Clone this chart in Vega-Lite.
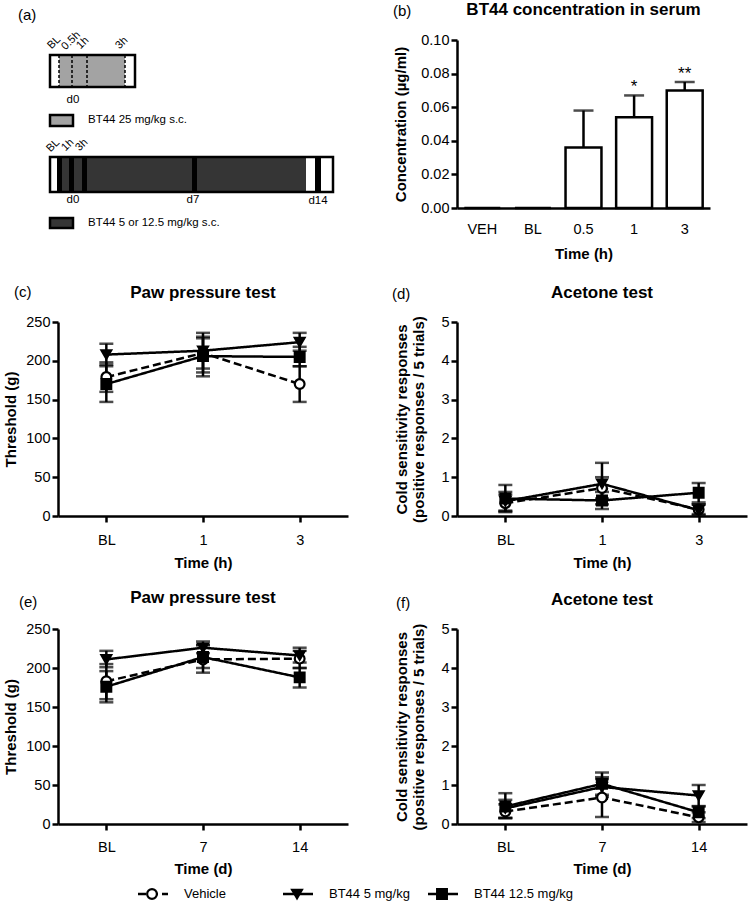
{
  "$schema": "https://vega.github.io/schema/vega-lite/v6.json",
  "background": "white",
  "padding": {"left": 3, "top": 0, "right": 2, "bottom": 2},
  "config": {
    "font": "Liberation Sans",
    "view": {"stroke": null},
    "axis": {"domainColor": "black", "domainWidth": 2.5, "tickColor": "black", "tickWidth": 2.5, "tickSize": 6, "labelColor": "black", "labelFontSize": 14.5, "labelFont": "Liberation Sans", "titleFont": "Liberation Sans", "titleFontSize": 15, "titleFontWeight": "bold", "titleColor": "black", "grid": false, "labelPadding": 2, "labelOverlap": false},
    "title": {"font": "Liberation Sans", "fontSize": 15, "fontWeight": "normal", "color": "black"}
  },
  "datasets": {
    "frames": [{"x": 0, "x2": 85, "y": 15, "y2": 47}, {"x": 0, "x2": 283, "y": 117, "y2": 152}],
    "fills": [
      {"x": 9, "x2": 75, "y": 15, "y2": 47, "kind": "gray"},
      {"x": 12, "x2": 256, "y": 117, "y2": 152, "kind": "dark"},
      {"x": 7, "x2": 12, "y": 117, "y2": 152, "kind": "black"},
      {"x": 19, "x2": 24, "y": 117, "y2": 152, "kind": "black"},
      {"x": 32, "x2": 37, "y": 117, "y2": 152, "kind": "black"},
      {"x": 142, "x2": 147, "y": 117, "y2": 152, "kind": "black"},
      {"x": 265, "x2": 271, "y": 117, "y2": 152, "kind": "black"}
    ],
    "swatches": [{"x": 0, "x2": 23, "y": 75, "y2": 86, "kind": "gray"}, {"x": 0, "x2": 23, "y": 178, "y2": 188, "kind": "dark"}],
    "dashes": [{"x": 9, "y": 15, "y2": 47}, {"x": 22, "y": 15, "y2": 47}, {"x": 37, "y": 15, "y2": 47}, {"x": 75, "y": 15, "y2": 47}],
    "rotlabels": [
      {"x": 3, "y": 11, "t": "BL"}, {"x": 17, "y": 12, "t": "0.5h"}, {"x": 32, "y": 11, "t": "1h"}, {"x": 71, "y": 11, "t": "3h"},
      {"x": 2, "y": 114, "t": "BL"}, {"x": 17, "y": 113, "t": "1h"}, {"x": 31, "y": 113, "t": "3h"}
    ],
    "daylabels": [{"x": 23, "y": 60, "t": "d0"}, {"x": 23, "y": 160, "t": "d0"}, {"x": 143, "y": 160, "t": "d7"}, {"x": 268, "y": 161, "t": "d14"}],
    "legtext": [{"x": 38, "y": 80, "t": "BT44 25 mg/kg s.c."}, {"x": 38, "y": 183, "t": "BT44 5 or 12.5 mg/kg s.c."}],
    "serum": [
      {"time": "VEH", "conc": 0, "hi": null, "sig": ""},
      {"time": "BL", "conc": 0, "hi": null, "sig": ""},
      {"time": "0.5", "conc": 0.036, "hi": 0.058, "sig": ""},
      {"time": "1", "conc": 0.054, "hi": 0.067, "sig": "*"},
      {"time": "3", "conc": 0.070, "hi": 0.075, "sig": "**"}
    ],
    "pawH": [
      {"time": "BL", "series": "Vehicle", "mean": 179, "lo": 160, "hi": 198},
      {"time": "1", "series": "Vehicle", "mean": 210, "lo": 185, "hi": 231},
      {"time": "3", "series": "Vehicle", "mean": 170, "lo": 147, "hi": 193},
      {"time": "BL", "series": "BT44 5 mg/kg", "mean": 208, "lo": 195, "hi": 222},
      {"time": "1", "series": "BT44 5 mg/kg", "mean": 213, "lo": 190, "hi": 236},
      {"time": "3", "series": "BT44 5 mg/kg", "mean": 224, "lo": 213, "hi": 236},
      {"time": "BL", "series": "BT44 12.5 mg/kg", "mean": 170, "lo": 147, "hi": 193},
      {"time": "1", "series": "BT44 12.5 mg/kg", "mean": 206, "lo": 180, "hi": 229},
      {"time": "3", "series": "BT44 12.5 mg/kg", "mean": 205, "lo": 193, "hi": 218}
    ],
    "aceH": [
      {"time": "BL", "series": "Vehicle", "mean": 0.33, "lo": 0.12, "hi": 0.55},
      {"time": "1", "series": "Vehicle", "mean": 0.72, "lo": 0.45, "hi": 1.0},
      {"time": "3", "series": "Vehicle", "mean": 0.17, "lo": 0.05, "hi": 0.3},
      {"time": "BL", "series": "BT44 5 mg/kg", "mean": 0.38, "lo": 0.14, "hi": 0.62},
      {"time": "1", "series": "BT44 5 mg/kg", "mean": 0.83, "lo": 0.3, "hi": 1.37},
      {"time": "3", "series": "BT44 5 mg/kg", "mean": 0.15, "lo": 0.02, "hi": 0.3},
      {"time": "BL", "series": "BT44 12.5 mg/kg", "mean": 0.45, "lo": 0.1, "hi": 0.8},
      {"time": "1", "series": "BT44 12.5 mg/kg", "mean": 0.4, "lo": 0.18, "hi": 0.62},
      {"time": "3", "series": "BT44 12.5 mg/kg", "mean": 0.6, "lo": 0.35, "hi": 0.85}
    ],
    "pawD": [
      {"time": "BL", "series": "Vehicle", "mean": 183, "lo": 160, "hi": 205},
      {"time": "7", "series": "Vehicle", "mean": 211, "lo": 194, "hi": 229},
      {"time": "14", "series": "Vehicle", "mean": 212, "lo": 200, "hi": 222},
      {"time": "BL", "series": "BT44 5 mg/kg", "mean": 211, "lo": 201, "hi": 222},
      {"time": "7", "series": "BT44 5 mg/kg", "mean": 226, "lo": 219, "hi": 234},
      {"time": "14", "series": "BT44 5 mg/kg", "mean": 216, "lo": 207, "hi": 226},
      {"time": "BL", "series": "BT44 12.5 mg/kg", "mean": 176, "lo": 156, "hi": 196},
      {"time": "7", "series": "BT44 12.5 mg/kg", "mean": 214, "lo": 200, "hi": 230},
      {"time": "14", "series": "BT44 12.5 mg/kg", "mean": 188, "lo": 175, "hi": 200}
    ],
    "aceD": [
      {"time": "BL", "series": "Vehicle", "mean": 0.32, "lo": 0.15, "hi": 0.5},
      {"time": "7", "series": "Vehicle", "mean": 0.68, "lo": 0.18, "hi": 1.15},
      {"time": "14", "series": "Vehicle", "mean": 0.17, "lo": 0.05, "hi": 0.3},
      {"time": "BL", "series": "BT44 5 mg/kg", "mean": 0.4, "lo": 0.16, "hi": 0.62},
      {"time": "7", "series": "BT44 5 mg/kg", "mean": 0.95, "lo": 0.7, "hi": 1.2},
      {"time": "14", "series": "BT44 5 mg/kg", "mean": 0.73, "lo": 0.46, "hi": 1.0},
      {"time": "BL", "series": "BT44 12.5 mg/kg", "mean": 0.45, "lo": 0.15, "hi": 0.79},
      {"time": "7", "series": "BT44 12.5 mg/kg", "mean": 1.03, "lo": 0.75, "hi": 1.32},
      {"time": "14", "series": "BT44 12.5 mg/kg", "mean": 0.3, "lo": 0.15, "hi": 0.45}
    ],
    "legend": [{"series": "Vehicle"}, {"series": "BT44 5 mg/kg"}, {"series": "BT44 12.5 mg/kg"}]
  },
  "columns": 2,
  "align": "none",
  "bounds": "flush",
  "spacing": {"row": 113, "column": 109},
  "concat": [
    {
      "width": 290, "height": 169,
      "title": {"text": "(a)", "anchor": "start", "frame": "group", "dx": -40, "dy": -2},
      "encoding": {
        "x": {"field": "x", "type": "quantitative", "scale": {"domain": [8, 298], "nice": false, "zero": false}, "axis": null},
        "y": {"field": "y", "type": "quantitative", "scale": {"domain": [0, 169], "reverse": true, "nice": false, "zero": false}, "axis": null}
      },
      "layer": [
        {"data": {"name": "frames"}, "mark": {"type": "rect", "fill": "white", "strokeWidth": 0}, "encoding": {"x2": {"field": "x2"}, "y2": {"field": "y2"}}},
        {"data": {"name": "fills"}, "transform": [{"filter": "datum.kind == 'gray'"}], "mark": {"type": "rect", "fill": "#a3a3a3", "strokeWidth": 0}, "encoding": {"x2": {"field": "x2"}, "y2": {"field": "y2"}}},
        {"data": {"name": "fills"}, "transform": [{"filter": "datum.kind == 'dark'"}], "mark": {"type": "rect", "fill": "#353535", "strokeWidth": 0}, "encoding": {"x2": {"field": "x2"}, "y2": {"field": "y2"}}},
        {"data": {"name": "fills"}, "transform": [{"filter": "datum.kind == 'black'"}], "mark": {"type": "rect", "fill": "#000000", "strokeWidth": 0}, "encoding": {"x2": {"field": "x2"}, "y2": {"field": "y2"}}},
        {"data": {"name": "frames"}, "mark": {"type": "rect", "fill": null, "fillOpacity": 0, "stroke": "black", "strokeWidth": 2.5}, "encoding": {"x2": {"field": "x2"}, "y2": {"field": "y2"}}},
        {"data": {"name": "swatches"}, "transform": [{"filter": "datum.kind == 'gray'"}], "mark": {"type": "rect", "fill": "#a3a3a3", "stroke": "black", "strokeWidth": 2.5}, "encoding": {"x2": {"field": "x2"}, "y2": {"field": "y2"}}},
        {"data": {"name": "swatches"}, "transform": [{"filter": "datum.kind == 'dark'"}], "mark": {"type": "rect", "fill": "#353535", "stroke": "black", "strokeWidth": 2.5}, "encoding": {"x2": {"field": "x2"}, "y2": {"field": "y2"}}},
        {"data": {"name": "dashes"}, "mark": {"type": "rule", "color": "black", "strokeWidth": 1.5, "strokeDash": [3, 2]}, "encoding": {"y2": {"field": "y2"}}},
        {"data": {"name": "rotlabels"}, "mark": {"type": "text", "angle": 315, "align": "left", "baseline": "bottom", "fontSize": 11, "color": "black"}, "encoding": {"text": {"field": "t"}}},
        {"data": {"name": "daylabels"}, "mark": {"type": "text", "align": "center", "baseline": "middle", "fontSize": 11.5, "color": "black"}, "encoding": {"text": {"field": "t"}}},
        {"data": {"name": "legtext"}, "mark": {"type": "text", "align": "left", "baseline": "middle", "fontSize": 11.5, "color": "black"}, "encoding": {"text": {"field": "t"}}}
      ]
    },
    {
      "width": 253, "height": 168,
      "title": {"text": "(b)", "anchor": "start", "frame": "group", "dx": -64, "dy": 22},
      "data": {"name": "serum"},
      "encoding": {
        "x": {"field": "time", "type": "ordinal", "scale": {"domain": ["VEH", "BL", "0.5", "1", "3"], "paddingInner": 0.29, "paddingOuter": 0.145}, "axis": {"title": "Time (h)", "ticks": false, "labelAngle": 0, "labelPadding": 14, "titlePadding": 11}}
      },
      "layer": [
        {"transform": [{"filter": "datum.hi != null"}], "mark": {"type": "rule", "color": "black", "strokeWidth": 2.5}, "encoding": {"y": {"field": "conc", "type": "quantitative", "scale": {"domain": [0, 0.1], "nice": false}, "axis": {"title": "Concentration (µg/ml)", "values": [0, 0.02, 0.04, 0.06, 0.08, 0.1], "format": ".2f", "titlePadding": 12}}, "y2": {"field": "hi"}}},
        {"transform": [{"filter": "datum.hi != null"}], "mark": {"type": "tick", "color": "black", "thickness": 2.5, "size": 20, "orient": "horizontal"}, "encoding": {"y": {"field": "hi", "type": "quantitative", "scale": {"domain": [0, 0.1], "nice": false}, "axis": {"title": "Concentration (µg/ml)", "values": [0, 0.02, 0.04, 0.06, 0.08, 0.1], "format": ".2f", "titlePadding": 12}}}},
        {"mark": {"type": "bar", "fill": "white", "stroke": "black", "strokeWidth": 2.5}, "encoding": {"y": {"field": "conc", "type": "quantitative", "scale": {"domain": [0, 0.1], "nice": false}, "axis": {"title": "Concentration (µg/ml)", "values": [0, 0.02, 0.04, 0.06, 0.08, 0.1], "format": ".2f", "titlePadding": 12}}}},
        {"transform": [{"filter": "datum.sig != ''"}], "mark": {"type": "text", "fontSize": 17, "baseline": "middle", "color": "black", "yOffset": -8}, "encoding": {"y": {"field": "hi", "type": "quantitative", "scale": {"domain": [0, 0.1], "nice": false}, "axis": {"title": "Concentration (µg/ml)", "values": [0, 0.02, 0.04, 0.06, 0.08, 0.1], "format": ".2f", "titlePadding": 12}}, "text": {"field": "sig"}}},
        {"data": {"values": [{"time": "0.5", "t": "BT44 concentration in serum"}]}, "mark": {"type": "text", "fontSize": 17, "fontWeight": "bold", "baseline": "middle", "color": "black"}, "encoding": {"y": {"datum": 0.118, "type": "quantitative", "scale": {"domain": [0, 0.1], "nice": false}, "axis": {"title": "Concentration (µg/ml)", "values": [0, 0.02, 0.04, 0.06, 0.08, 0.1], "format": ".2f", "titlePadding": 12}}, "text": {"field": "t"}}}
      ]
    },
    {
      "width": 290, "height": 194,
      "title": {"text": "(c)", "anchor": "start", "frame": "group", "dx": -44, "dy": 20},
      "data": {"name": "pawH"},
      "encoding": {
        "x": {"field": "time", "type": "ordinal", "scale": {"type": "point", "domain": ["BL", "1", "3"], "padding": 0.5}, "axis": {"title": "Time (h)", "labelAngle": 0, "labelPadding": 11, "titlePadding": 9}}
      },
      "layer": [
        {"mark": {"type": "rule", "color": "black", "strokeWidth": 2.5}, "encoding": {"y": {"field": "lo", "type": "quantitative", "scale": {"domain": [0, 250], "nice": false}, "axis": {"title": "Threshold (g)", "values": [0, 50, 100, 150, 200, 250], "titlePadding": 7}}, "y2": {"field": "hi"}}},
        {"mark": {"type": "tick", "color": "black", "thickness": 2.5, "size": 14, "orient": "horizontal"}, "encoding": {"y": {"field": "lo", "type": "quantitative", "scale": {"domain": [0, 250], "nice": false}, "axis": {"title": "Threshold (g)", "values": [0, 50, 100, 150, 200, 250], "titlePadding": 7}}}},
        {"mark": {"type": "tick", "color": "black", "thickness": 2.5, "size": 14, "orient": "horizontal"}, "encoding": {"y": {"field": "hi", "type": "quantitative", "scale": {"domain": [0, 250], "nice": false}, "axis": {"title": "Threshold (g)", "values": [0, 50, 100, 150, 200, 250], "titlePadding": 7}}}},
        {"mark": {"type": "line", "color": "black", "strokeWidth": 2.5}, "encoding": {"y": {"field": "mean", "type": "quantitative", "scale": {"domain": [0, 250], "nice": false}, "axis": {"title": "Threshold (g)", "values": [0, 50, 100, 150, 200, 250], "titlePadding": 7}}, "strokeDash": {"field": "series", "type": "nominal", "scale": {"domain": ["Vehicle", "BT44 5 mg/kg", "BT44 12.5 mg/kg"], "range": [[8, 4], [1, 0], [1, 0]]}, "legend": null}}},
        {"mark": {"type": "point", "filled": true, "stroke": "black", "strokeWidth": 2.2, "size": 95, "opacity": 1}, "encoding": {"y": {"field": "mean", "type": "quantitative", "scale": {"domain": [0, 250], "nice": false}, "axis": {"title": "Threshold (g)", "values": [0, 50, 100, 150, 200, 250], "titlePadding": 7}}, "shape": {"field": "series", "type": "nominal", "scale": {"domain": ["Vehicle", "BT44 5 mg/kg", "BT44 12.5 mg/kg"], "range": ["circle", "triangle-down", "square"]}, "legend": null}, "fill": {"field": "series", "type": "nominal", "scale": {"domain": ["Vehicle", "BT44 5 mg/kg", "BT44 12.5 mg/kg"], "range": ["white", "black", "black"]}, "legend": null}}},
        {"data": {"values": [{"time": "1", "t": "Paw pressure test"}]}, "mark": {"type": "text", "fontSize": 17, "fontWeight": "bold", "baseline": "middle", "color": "black"}, "encoding": {"y": {"datum": 287, "type": "quantitative", "scale": {"domain": [0, 250], "nice": false}, "axis": {"title": "Threshold (g)", "values": [0, 50, 100, 150, 200, 250], "titlePadding": 7}}, "text": {"field": "t"}}}
      ]
    },
    {
      "width": 290, "height": 194,
      "title": {"text": "(d)", "anchor": "start", "frame": "group", "dx": -65, "dy": 22},
      "data": {"name": "aceH"},
      "encoding": {
        "x": {"field": "time", "type": "ordinal", "scale": {"type": "point", "domain": ["BL", "1", "3"], "padding": 0.5}, "axis": {"title": "Time (h)", "labelAngle": 0, "labelPadding": 11, "titlePadding": 9}}
      },
      "layer": [
        {"mark": {"type": "rule", "color": "black", "strokeWidth": 2.5}, "encoding": {"y": {"field": "lo", "type": "quantitative", "scale": {"domain": [0, 5], "nice": false}, "axis": {"title": ["Cold sensitivity responses", "(positive responses / 5 trials)"], "values": [0, 1, 2, 3, 4, 5], "titlePadding": 14}}, "y2": {"field": "hi"}}},
        {"mark": {"type": "tick", "color": "black", "thickness": 2.5, "size": 14, "orient": "horizontal"}, "encoding": {"y": {"field": "lo", "type": "quantitative", "scale": {"domain": [0, 5], "nice": false}, "axis": {"title": ["Cold sensitivity responses", "(positive responses / 5 trials)"], "values": [0, 1, 2, 3, 4, 5], "titlePadding": 14}}}},
        {"mark": {"type": "tick", "color": "black", "thickness": 2.5, "size": 14, "orient": "horizontal"}, "encoding": {"y": {"field": "hi", "type": "quantitative", "scale": {"domain": [0, 5], "nice": false}, "axis": {"title": ["Cold sensitivity responses", "(positive responses / 5 trials)"], "values": [0, 1, 2, 3, 4, 5], "titlePadding": 14}}}},
        {"mark": {"type": "line", "color": "black", "strokeWidth": 2.5}, "encoding": {"y": {"field": "mean", "type": "quantitative", "scale": {"domain": [0, 5], "nice": false}, "axis": {"title": ["Cold sensitivity responses", "(positive responses / 5 trials)"], "values": [0, 1, 2, 3, 4, 5], "titlePadding": 14}}, "strokeDash": {"field": "series", "type": "nominal", "scale": {"domain": ["Vehicle", "BT44 5 mg/kg", "BT44 12.5 mg/kg"], "range": [[8, 4], [1, 0], [1, 0]]}, "legend": null}}},
        {"mark": {"type": "point", "filled": true, "stroke": "black", "strokeWidth": 2.2, "size": 95, "opacity": 1}, "encoding": {"y": {"field": "mean", "type": "quantitative", "scale": {"domain": [0, 5], "nice": false}, "axis": {"title": ["Cold sensitivity responses", "(positive responses / 5 trials)"], "values": [0, 1, 2, 3, 4, 5], "titlePadding": 14}}, "shape": {"field": "series", "type": "nominal", "scale": {"domain": ["Vehicle", "BT44 5 mg/kg", "BT44 12.5 mg/kg"], "range": ["circle", "triangle-down", "square"]}, "legend": null}, "fill": {"field": "series", "type": "nominal", "scale": {"domain": ["Vehicle", "BT44 5 mg/kg", "BT44 12.5 mg/kg"], "range": ["white", "black", "black"]}, "legend": null}}},
        {"data": {"values": [{"time": "1", "t": "Acetone test"}]}, "mark": {"type": "text", "fontSize": 17, "fontWeight": "bold", "baseline": "middle", "color": "black"}, "encoding": {"y": {"datum": 5.75, "type": "quantitative", "scale": {"domain": [0, 5], "nice": false}, "axis": {"title": ["Cold sensitivity responses", "(positive responses / 5 trials)"], "values": [0, 1, 2, 3, 4, 5], "titlePadding": 14}}, "text": {"field": "t"}}}
      ]
    },
    {
      "width": 290, "height": 195,
      "title": {"text": "(e)", "anchor": "start", "frame": "group", "dx": -39, "dy": 25},
      "data": {"name": "pawD"},
      "encoding": {
        "x": {"field": "time", "type": "ordinal", "scale": {"type": "point", "domain": ["BL", "7", "14"], "padding": 0.5}, "axis": {"title": "Time (d)", "labelAngle": 0, "labelPadding": 10, "titlePadding": 8}}
      },
      "layer": [
        {"mark": {"type": "rule", "color": "black", "strokeWidth": 2.5}, "encoding": {"y": {"field": "lo", "type": "quantitative", "scale": {"domain": [0, 250], "nice": false}, "axis": {"title": "Threshold (g)", "values": [0, 50, 100, 150, 200, 250], "titlePadding": 7}}, "y2": {"field": "hi"}}},
        {"mark": {"type": "tick", "color": "black", "thickness": 2.5, "size": 14, "orient": "horizontal"}, "encoding": {"y": {"field": "lo", "type": "quantitative", "scale": {"domain": [0, 250], "nice": false}, "axis": {"title": "Threshold (g)", "values": [0, 50, 100, 150, 200, 250], "titlePadding": 7}}}},
        {"mark": {"type": "tick", "color": "black", "thickness": 2.5, "size": 14, "orient": "horizontal"}, "encoding": {"y": {"field": "hi", "type": "quantitative", "scale": {"domain": [0, 250], "nice": false}, "axis": {"title": "Threshold (g)", "values": [0, 50, 100, 150, 200, 250], "titlePadding": 7}}}},
        {"mark": {"type": "line", "color": "black", "strokeWidth": 2.5}, "encoding": {"y": {"field": "mean", "type": "quantitative", "scale": {"domain": [0, 250], "nice": false}, "axis": {"title": "Threshold (g)", "values": [0, 50, 100, 150, 200, 250], "titlePadding": 7}}, "strokeDash": {"field": "series", "type": "nominal", "scale": {"domain": ["Vehicle", "BT44 5 mg/kg", "BT44 12.5 mg/kg"], "range": [[8, 4], [1, 0], [1, 0]]}, "legend": null}}},
        {"mark": {"type": "point", "filled": true, "stroke": "black", "strokeWidth": 2.2, "size": 95, "opacity": 1}, "encoding": {"y": {"field": "mean", "type": "quantitative", "scale": {"domain": [0, 250], "nice": false}, "axis": {"title": "Threshold (g)", "values": [0, 50, 100, 150, 200, 250], "titlePadding": 7}}, "shape": {"field": "series", "type": "nominal", "scale": {"domain": ["Vehicle", "BT44 5 mg/kg", "BT44 12.5 mg/kg"], "range": ["circle", "triangle-down", "square"]}, "legend": null}, "fill": {"field": "series", "type": "nominal", "scale": {"domain": ["Vehicle", "BT44 5 mg/kg", "BT44 12.5 mg/kg"], "range": ["white", "black", "black"]}, "legend": null}}},
        {"data": {"values": [{"time": "7", "t": "Paw pressure test"}]}, "mark": {"type": "text", "fontSize": 17, "fontWeight": "bold", "baseline": "middle", "color": "black"}, "encoding": {"y": {"datum": 290, "type": "quantitative", "scale": {"domain": [0, 250], "nice": false}, "axis": {"title": "Threshold (g)", "values": [0, 50, 100, 150, 200, 250], "titlePadding": 7}}, "text": {"field": "t"}}}
      ]
    },
    {
      "width": 290, "height": 195,
      "title": {"text": "(f)", "anchor": "start", "frame": "group", "dx": -61, "dy": 24},
      "data": {"name": "aceD"},
      "encoding": {
        "x": {"field": "time", "type": "ordinal", "scale": {"type": "point", "domain": ["BL", "7", "14"], "padding": 0.5}, "axis": {"title": "Time (d)", "labelAngle": 0, "labelPadding": 10, "titlePadding": 8}}
      },
      "layer": [
        {"mark": {"type": "rule", "color": "black", "strokeWidth": 2.5}, "encoding": {"y": {"field": "lo", "type": "quantitative", "scale": {"domain": [0, 5], "nice": false}, "axis": {"title": ["Cold sensitivity responses", "(positive responses / 5 trials)"], "values": [0, 1, 2, 3, 4, 5], "titlePadding": 14}}, "y2": {"field": "hi"}}},
        {"mark": {"type": "tick", "color": "black", "thickness": 2.5, "size": 14, "orient": "horizontal"}, "encoding": {"y": {"field": "lo", "type": "quantitative", "scale": {"domain": [0, 5], "nice": false}, "axis": {"title": ["Cold sensitivity responses", "(positive responses / 5 trials)"], "values": [0, 1, 2, 3, 4, 5], "titlePadding": 14}}}},
        {"mark": {"type": "tick", "color": "black", "thickness": 2.5, "size": 14, "orient": "horizontal"}, "encoding": {"y": {"field": "hi", "type": "quantitative", "scale": {"domain": [0, 5], "nice": false}, "axis": {"title": ["Cold sensitivity responses", "(positive responses / 5 trials)"], "values": [0, 1, 2, 3, 4, 5], "titlePadding": 14}}}},
        {"mark": {"type": "line", "color": "black", "strokeWidth": 2.5}, "encoding": {"y": {"field": "mean", "type": "quantitative", "scale": {"domain": [0, 5], "nice": false}, "axis": {"title": ["Cold sensitivity responses", "(positive responses / 5 trials)"], "values": [0, 1, 2, 3, 4, 5], "titlePadding": 14}}, "strokeDash": {"field": "series", "type": "nominal", "scale": {"domain": ["Vehicle", "BT44 5 mg/kg", "BT44 12.5 mg/kg"], "range": [[8, 4], [1, 0], [1, 0]]}, "legend": null}}},
        {"mark": {"type": "point", "filled": true, "stroke": "black", "strokeWidth": 2.2, "size": 95, "opacity": 1}, "encoding": {"y": {"field": "mean", "type": "quantitative", "scale": {"domain": [0, 5], "nice": false}, "axis": {"title": ["Cold sensitivity responses", "(positive responses / 5 trials)"], "values": [0, 1, 2, 3, 4, 5], "titlePadding": 14}}, "shape": {"field": "series", "type": "nominal", "scale": {"domain": ["Vehicle", "BT44 5 mg/kg", "BT44 12.5 mg/kg"], "range": ["circle", "triangle-down", "square"]}, "legend": null}, "fill": {"field": "series", "type": "nominal", "scale": {"domain": ["Vehicle", "BT44 5 mg/kg", "BT44 12.5 mg/kg"], "range": ["white", "black", "black"]}, "legend": null}}},
        {"data": {"values": [{"time": "7", "t": "Acetone test"}]}, "mark": {"type": "text", "fontSize": 17, "fontWeight": "bold", "baseline": "middle", "color": "black"}, "encoding": {"y": {"datum": 5.74, "type": "quantitative", "scale": {"domain": [0, 5], "nice": false}, "axis": {"title": ["Cold sensitivity responses", "(positive responses / 5 trials)"], "values": [0, 1, 2, 3, 4, 5], "titlePadding": 14}}, "text": {"field": "t"}}}
      ]
    },
    {
      "width": 290, "height": 20,
      "data": {"name": "legend"},
      "encoding": {
        "x": {"field": "series", "type": "nominal", "scale": {"type": "point", "domain": ["Vehicle", "BT44 5 mg/kg", "BT44 12.5 mg/kg"], "padding": -0.05}, "axis": null},
        "y": {"datum": 0.5, "type": "quantitative", "scale": {"domain": [0, 1]}, "axis": null}
      },
      "layer": [
        {"mark": {"type": "rule", "color": "black", "strokeWidth": 2.5, "xOffset": 80, "x2Offset": 110, "yOffset": -53}, "encoding": {"x2": {"field": "series"}, "strokeDash": {"field": "series", "type": "nominal", "scale": {"domain": ["Vehicle", "BT44 5 mg/kg", "BT44 12.5 mg/kg"], "range": [[8, 4], [1, 0], [1, 0]]}, "legend": null}}},
        {"mark": {"type": "point", "filled": true, "stroke": "black", "strokeWidth": 2.2, "size": 95, "opacity": 1, "xOffset": 94, "yOffset": -53}, "encoding": {"shape": {"field": "series", "type": "nominal", "scale": {"domain": ["Vehicle", "BT44 5 mg/kg", "BT44 12.5 mg/kg"], "range": ["circle", "triangle-down", "square"]}, "legend": null}, "fill": {"field": "series", "type": "nominal", "scale": {"domain": ["Vehicle", "BT44 5 mg/kg", "BT44 12.5 mg/kg"], "range": ["white", "black", "black"]}, "legend": null}}},
        {"mark": {"type": "text", "align": "left", "baseline": "middle", "xOffset": 126, "yOffset": -53, "fontSize": 13, "color": "black"}, "encoding": {"text": {"field": "series"}}}
      ]
    }
  ]
}
